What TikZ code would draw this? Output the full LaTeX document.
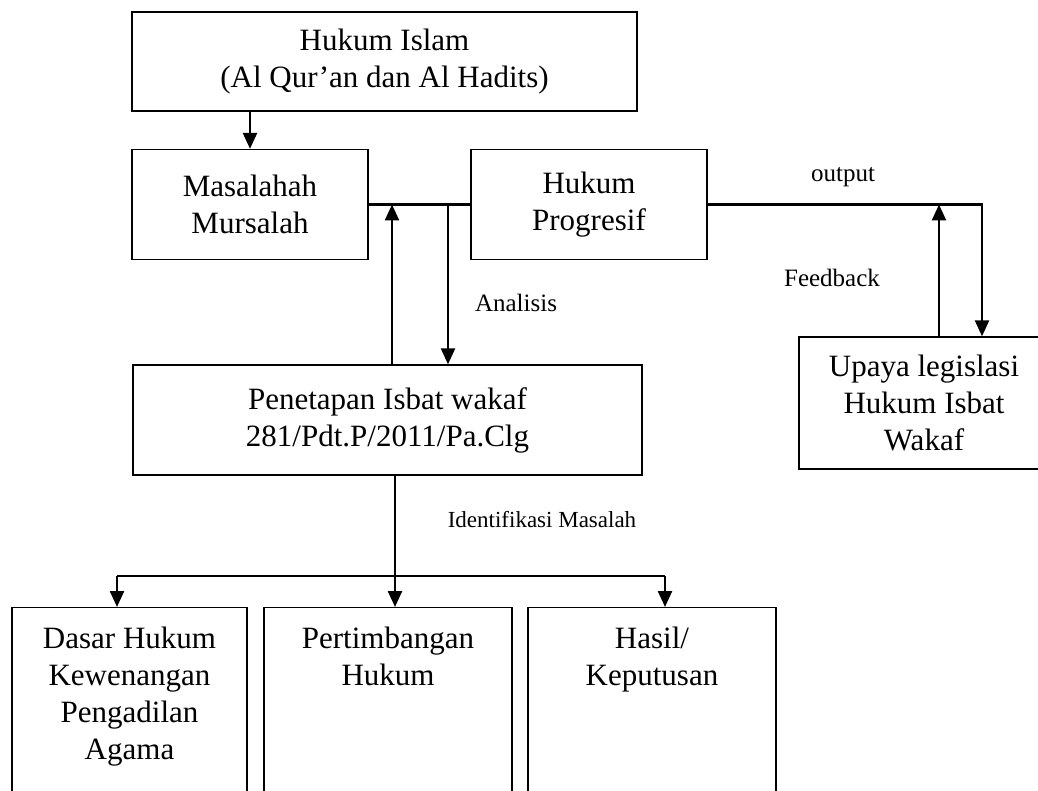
\documentclass[tikz,border=0pt]{standalone}
\usepackage{fontspec}
\setmainfont{Liberation Serif}
\usetikzlibrary{positioning, arrows.meta}

\begin{document}
\begin{tikzpicture}[
        x=1pt, y=-1pt,
        box/.style={draw, line width=1.3pt, rectangle, align=center, inner sep=0pt, font=\fontsize{31}{37}\selectfont},
        leafbox/.style={draw, line width=1.3pt, rectangle, anchor=north, inner xsep=0pt, inner ysep=19pt, font=\fontsize{31}{37}\selectfont},
        lbl/.style={font=\fontsize{25}{30}\selectfont},
        arrow/.style={-{Triangle[length=16pt, width=14pt]}, line width=2.4pt},
        link/.style={line width=2.4pt}
        ]
        \clip (0,0) rectangle (1038,791);

        % upper part
        \node[box, minimum width=505pt, minimum height=99pt] (islam) at (384.5,61.5) {Hukum Islam\\(Al Qur’an dan Al Hadits)};
        \node[box, minimum width=236pt, minimum height=110pt] (masl) at (250,204.5) {Masalahah\\Mursalah};
        \node[box, minimum width=236pt, minimum height=110pt] (prog) at (589,204.5) {Hukum\\Progresif};
        \node[box, minimum width=250pt, minimum height=132pt] (upaya) at (924,403) {Upaya legislasi\\Hukum Isbat\\Wakaf};
        \node[box, minimum width=509pt, minimum height=110pt] (pen) at (387.5,420) {Penetapan Isbat wakaf\\281/Pdt.P/2011/Pa.Clg};

        % lower part
        \node[leafbox, minimum width=235pt] (dasar) at (129.5,607) {\parbox[t][200pt][t]{225pt}{\centering Dasar Hukum\\Kewenangan\\Pengadilan\\Agama}};
        \node[leafbox, minimum width=248pt] (pert) at (388,607) {\parbox[t][200pt][t]{235pt}{\centering Pertimbangan\\Hukum}};
        \node[leafbox, minimum width=248pt] (hasil) at (652,607) {\parbox[t][200pt][t]{235pt}{\centering Hasil/\\Keputusan}};

        % labels
        \node[lbl] (output) at (843,177) {output};
        \node[lbl] (feedback) at (832,278) {Feedback};
        \node[lbl] (analisis) at (516,303) {Analisis};
        \node[lbl, font=\fontsize{23}{28}\selectfont] (identifikasi) at (542,520) {Identifikasi Masalah};

        % junctions
        \coordinate (up1) at (392,204.5);
        \coordinate (down1) at (448,204.5);
        \coordinate (up2) at (939,204.5);
        \coordinate (down2) at (982,204.5);
        \coordinate (fork) at (395,576);
        \coordinate (left) at (117,576);
        \coordinate (right) at (665,576);

        \draw[arrow] (islam.south -| masl.north) -- (masl.north);
        \draw[link] (masl.east) -- (prog.west);
        \draw[arrow] (up1 |- pen.north) -- (up1);
        \draw[arrow] (down1) -- (down1 |- pen.north);
        \draw[arrow] (prog.east) -- (down2) -- (down2 |- upaya.north);
        \draw[arrow] (up2 |- upaya.north) -- (up2);

        \draw[link] (pen.south -| fork) -- (fork);
        \draw[link] (left) -- (right);
        \draw[arrow] (fork) -- (fork |- pert.north);
        \draw[arrow] (left) -- (left |- dasar.north);
        \draw[arrow] (right) -- (right |- hasil.north);
    \end{tikzpicture}
\end{document}
